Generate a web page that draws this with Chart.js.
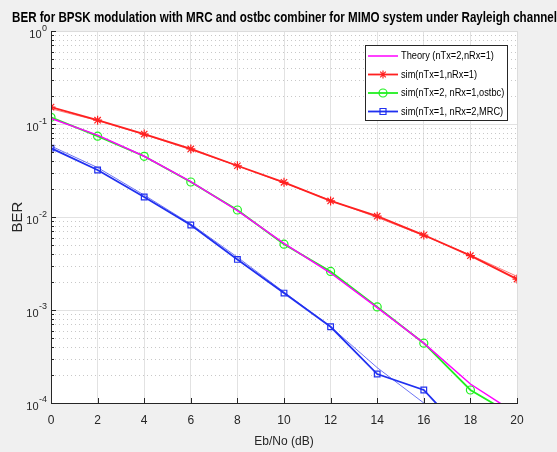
<!DOCTYPE html>
<html>
<head>
<meta charset="utf-8">
<script src="https://cdn.jsdelivr.net/npm/chart.js@4.4.0/dist/chart.umd.min.js"></script>
<style>
  html, body { margin: 0; padding: 0; background: #f0f0f0; }
</style>
</head>
<body>
<canvas id="berChart" width="557" height="452"></canvas>
<script>
/*
  BER data
*/
var ebNo = [0, 2, 4, 6, 8, 10, 12, 14, 16, 18, 20];
var berTheory2x1 = [0.115, 0.076, 0.045, 0.0240, 0.0117, 0.0052, 0.0025, 0.00106, 0.00044, 0.00016, 0.000076];
var berSim1x1 = [0.152, 0.110, 0.078, 0.054, 0.0356, 0.0236, 0.0149, 0.0102, 0.0064, 0.00384, 0.00215];
var berSim2x1 = [0.118, 0.074, 0.045, 0.0238, 0.0119, 0.0051, 0.0026, 0.00108, 0.00044, 0.000138, 0.00007];
var berSim1x2 = [0.055, 0.032, 0.0164, 0.0082, 0.0035, 0.00152, 0.00066, 0.000205, 0.000138, 0.00004, null];
var berTheory1x1 = [0.146, 0.109, 0.077, 0.053, 0.0355, 0.0233, 0.0151, 0.0099, 0.0063, 0.0039, 0.0023];
var berTheory1x2 = [0.058, 0.034, 0.0172, 0.0084, 0.0037, 0.00156, 0.00066, 0.00024, 0.0001, 0.00004, 0.000016];

var yDecades = [1e-4, 1e-3, 1e-2, 1e-1, 1];
var yExponents = ['-4', '-3', '-2', '-1', '0'];
var xTicks = [0, 2, 4, 6, 8, 10, 12, 14, 16, 18, 20];

var font = "'Liberation Sans', Arial, Helvetica, sans-serif";
var axisColor = '#262626';

var toPoints = (arr) => ebNo.map((x, i) => ({x: x, y: arr[i]}));

// draw a matlab-ish marker (used by the legend)
var drawMarker = (ctx, style, x, y, r, color) => {
  ctx.save();
  ctx.strokeStyle = color;
  ctx.lineWidth = 1.2;
  ctx.beginPath();
  if (style === 'star') {
    ctx.moveTo(x - r, y); ctx.lineTo(x + r, y);
    ctx.moveTo(x, y - r); ctx.lineTo(x, y + r);
    var d = r * 0.7;
    ctx.moveTo(x - d, y - d); ctx.lineTo(x + d, y + d);
    ctx.moveTo(x - d, y + d); ctx.lineTo(x + d, y - d);
  } else if (style === 'circle') {
    ctx.arc(x, y, r, 0, Math.PI * 2);
  } else if (style === 'rect') {
    ctx.rect(x - r * 0.75, y - r * 0.75, r * 1.5, r * 1.5);
  }
  ctx.stroke();
  ctx.restore();
}

var matlabAxes = {
  id: 'matlabAxes',
  beforeDraw: (chart) => {
    var ctx = chart.ctx;
    var a = chart.chartArea;
    ctx.save();
    ctx.fillStyle = '#f0f0f0';
    ctx.fillRect(0, 0, chart.width, chart.height);
    ctx.fillStyle = '#ffffff';
    ctx.fillRect(a.left, a.top, a.right - a.left, a.bottom - a.top);
    ctx.restore();
  },
  beforeDatasetsDraw: (chart) => {
    // minor dotted grid for the log axis
    var ctx = chart.ctx;
    var a = chart.chartArea;
    var y = chart.scales.y;
    ctx.save();
    ctx.strokeStyle = '#c8c8c8';
    ctx.lineWidth = 1;
    ctx.setLineDash([1, 3]);
    for (var d = 0; d < yDecades.length - 1; d++) {
      for (var k = 2; k <= 9; k++) {
        var py = Math.round(y.getPixelForValue(yDecades[d] * k)) + 0.5;
        ctx.beginPath();
        ctx.moveTo(a.left, py);
        ctx.lineTo(a.right, py);
        ctx.stroke();
      }
    }
    ctx.restore();
  },
  afterDatasetsDraw: (chart) => {
    var ctx = chart.ctx;
    var a = chart.chartArea;
    var x = chart.scales.x;
    var y = chart.scales.y;
    ctx.save();
    // top / right edges light, left / bottom dark
    ctx.lineWidth = 1;
    ctx.strokeStyle = '#dcdcdc';
    ctx.beginPath();
    ctx.moveTo(a.left, a.top + 0.5); ctx.lineTo(a.right + 0.5, a.top + 0.5);
    ctx.lineTo(a.right + 0.5, a.bottom);
    ctx.stroke();
    ctx.strokeStyle = axisColor;
    ctx.beginPath();
    ctx.moveTo(a.left + 0.5, a.top); ctx.lineTo(a.left + 0.5, a.bottom + 0.5);
    ctx.lineTo(a.right + 1, a.bottom + 0.5);
    ctx.stroke();
    // inward tick marks
    ctx.beginPath();
    xTicks.forEach(v => {
      var px = Math.round(x.getPixelForValue(v)) + 0.5;
      ctx.moveTo(px, a.bottom); ctx.lineTo(px, a.bottom - 5);
    });
    for (var d = 0; d < yDecades.length; d++) {
      var py = Math.round(y.getPixelForValue(yDecades[d])) + 0.5;
      ctx.moveTo(a.left, py); ctx.lineTo(a.left + 5, py);
      if (d < yDecades.length - 1) {
        for (var k = 2; k <= 9; k++) {
          var pm = Math.round(y.getPixelForValue(yDecades[d] * k)) + 0.5;
          ctx.moveTo(a.left, pm); ctx.lineTo(a.left + 3, pm);
        }
      }
    }
    ctx.stroke();
    // y tick labels as 10^n
    ctx.fillStyle = axisColor;
    ctx.textAlign = 'right';
    ctx.textBaseline = 'middle';
    yDecades.forEach((v, i) => {
      var py = y.getPixelForValue(v);
      ctx.font = '9px ' + font;
      var w = ctx.measureText(yExponents[i]).width;
      ctx.fillText(yExponents[i], a.left - 4, py - 3);
      ctx.font = '11px ' + font;
      ctx.fillText('10', a.left - 4 - w - 0.5, py + 4);
    });
    ctx.restore();

    // legend box
    var lx = 365, ly = 45, lw = 142, lh = 75;
    ctx.save();
    ctx.fillStyle = '#ffffff';
    ctx.fillRect(lx, ly, lw, lh);
    ctx.strokeStyle = axisColor;
    ctx.lineWidth = 1;
    ctx.strokeRect(lx + 0.5, ly + 0.5, lw, lh);
    var rows = [56, 74.5, 93, 111.5];
    chart.data.datasets.slice(0, 4).forEach((ds, i) => {
      var ry = rows[i];
      ctx.strokeStyle = ds.borderColor;
      ctx.lineWidth = ds.borderWidth;
      ctx.beginPath();
      ctx.moveTo(368, ry); ctx.lineTo(398, ry);
      ctx.stroke();
      if (ds.pointRadius > 0) drawMarker(ctx, ds.pointStyle, 383, ry, 4, ds.borderColor);
      // legend text is squeezed sideways like the original figure
      ctx.save();
      ctx.translate(401, ry);
      ctx.scale(0.84, 1);
      ctx.font = '11px ' + font;
      ctx.textAlign = 'left';
      ctx.textBaseline = 'middle';
      ctx.fillStyle = '#000000';
      ctx.fillText(ds.label, 0, 0);
      ctx.restore();
    });
    ctx.restore();
  }
};

var berChart = new Chart(document.getElementById('berChart'), {
  type: 'line',
  data: {
    datasets: [{
      label: 'Theory (nTx=2,nRx=1)',
      data: toPoints(berTheory2x1),
      borderColor: '#ff00ff',
      borderWidth: 1.5,
      pointRadius: 0
    }, {
      label: 'sim(nTx=1,nRx=1)',
      data: toPoints(berSim1x1),
      borderColor: '#ff2020',
      borderWidth: 1.8,
      pointStyle: 'star',
      pointRadius: 4.5,
      pointBorderWidth: 1.2,
      pointBorderColor: '#ff2020'
    }, {
      label: 'sim(nTx=2, nRx=1,ostbc)',
      data: toPoints(berSim2x1),
      borderColor: '#20f020',
      borderWidth: 1.8,
      pointStyle: 'circle',
      pointRadius: 4,
      pointBorderWidth: 1.2,
      pointBackgroundColor: 'rgba(0,0,0,0)',
      pointBorderColor: '#20f020'
    }, {
      label: 'sim(nTx=1, nRx=2,MRC)',
      data: toPoints(berSim1x2),
      borderColor: '#2030f0',
      borderWidth: 1.8,
      pointStyle: 'rect',
      pointRadius: 4,
      pointBorderWidth: 1.2,
      pointBackgroundColor: 'rgba(0,0,0,0)',
      pointBorderColor: '#2030f0'
    }, {
      label: 'theory 1x1',
      data: toPoints(berTheory1x1),
      borderColor: 'rgba(255,60,60,0.7)',
      borderWidth: 1,
      pointRadius: 0
    }, {
      label: 'theory 1x2',
      data: toPoints(berTheory1x2),
      borderColor: 'rgba(60,70,240,0.75)',
      borderWidth: 1,
      pointRadius: 0
    }]
  },
  options: {
    responsive: false,
    animation: false,
    devicePixelRatio: 1,
    layout: { padding: { left: 12, right: 0, top: 0, bottom: 0 } },
    plugins: {
      legend: { display: false },
      tooltip: { enabled: false },
      title: {
        display: true,
        text: 'BER for BPSK modulation with MRC and ostbc combiner for MIMO system under Rayleigh channel',
        color: '#000000',
        font: { family: font, size: 14.7, weight: 'bold', lineHeight: 1.2 },
        padding: { top: 9, bottom: 4.4 }
      }
    },
    scales: {
      x: {
        type: 'linear',
        min: 0,
        max: 20,
        afterBuildTicks: (scale) => { scale.ticks = xTicks.map(v => ({value: v})) },
        afterFit: (scale) => { scale.height = 49 },
        ticks: { color: axisColor, font: { family: font, size: 12 }, padding: 10, maxRotation: 0 },
        grid: { color: '#e2e2e2', drawTicks: false },
        border: { display: false },
        title: {
          display: true,
          text: 'Eb/No (dB)',
          color: axisColor,
          font: { family: font, size: 12 },
          padding: { top: 0, bottom: 3 }
        }
      },
      y: {
        type: 'logarithmic',
        min: 1e-4,
        max: 1,
        afterBuildTicks: (scale) => { scale.ticks = yDecades.map(v => ({value: v})) },
        afterFit: (scale) => { scale.width = 39 },
        ticks: { display: false },
        grid: { color: '#e2e2e2', drawTicks: false },
        border: { display: false },
        title: {
          display: true,
          text: 'BER',
          color: axisColor,
          font: { family: font, size: 15 },
          padding: { top: -3, bottom: 0 }
        }
      },
      yRight: {
        type: 'linear',
        position: 'right',
        afterFit: (scale) => { scale.width = 40 },
        ticks: { display: false },
        grid: { display: false },
        border: { display: false }
      }
    }
  },
  plugins: [matlabAxes]
});
</script>
</body>
</html>
